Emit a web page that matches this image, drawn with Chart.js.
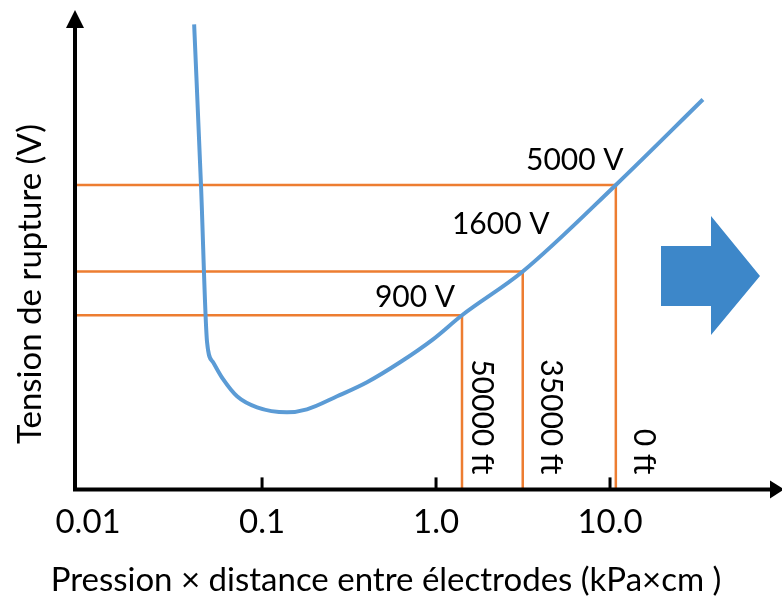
<!DOCTYPE html>
<html lang="fr">
<head>
<meta charset="utf-8">
<title>Tension de rupture</title>
<script src="https://cdn.jsdelivr.net/npm/chart.js@4.4.1/dist/chart.umd.min.js"></script>
<style>
  html, body { margin: 0; padding: 0; background: #fff; }
  #wrap { width: 782px; height: 596px; position: relative; }
</style>
</head>
<body>
<div id="wrap"><canvas id="paschenChart"></canvas></div>
<script>
// courbe (pression x distance en kPa.cm, tension en V)
const curveX = [0.0407, 0.0446, 0.0483, 0.0523, 0.0597, 0.0718, 0.0936, 0.139, 0.181, 0.270, 0.401, 0.621, 0.961, 1.41, 3.15, 10.8, 34.2];
const curveV = [41400, 4900, 631, 485, 388, 310, 268, 251, 261, 310, 373, 485, 656, 900, 1600, 5000, 15400];

// repères altitude
const markX = [1.41, 3.15, 10.8];
const markV = [900, 1600, 5000];
const markVLabels = ['900 V', '1600 V', '5000 V'];
const markAltLabels = ['50000 ft', '35000 ft', '0 ft'];

const xTicks = [0.01, 0.1, 1, 10];
const xTickLabels = ['0.01', '0.1', '1.0', '10.0'];

const xTitle = 'Pression × distance entre électrodes (kPa×cm )';
const yTitle = 'Tension de rupture (V)';

const xMin = 0.00841, xMax = 97.4;
const yMin = 91, yMax = 50000;

const FONT = 'Lato, "Open Sans", sans-serif';
const BLUE = '#5b9bd5';
const ORANGE = '#ed7d31';

window.addEventListener('DOMContentLoaded', () => {
  const canvas = document.getElementById('paschenChart');

  const curve = curveX.map((x, i) => ({ x: x, y: curveV[i] }));
  const markSets = markX.map((x, i) => ({
    data: [{ x: xMin, y: markV[i] }, { x: x, y: markV[i] }, { x: x, y: yMin }],
    borderColor: ORANGE,
    borderWidth: 2.5,
    pointRadius: 0,
    tension: 0,
    fill: false
  }));

  const decor = {
    id: 'decor',
    afterDatasetsDraw(chart) {
      const { ctx, chartArea: a, scales: { x, y } } = chart;
      ctx.save();

      // axes avec flèches
      ctx.strokeStyle = '#000';
      ctx.fillStyle = '#000';
      ctx.lineWidth = 4;
      ctx.beginPath();
      ctx.moveTo(a.left, a.bottom + 2);
      ctx.lineTo(a.left, a.top + 16);
      ctx.moveTo(a.left - 2, a.bottom);
      ctx.lineTo(a.right - 10, a.bottom);
      ctx.stroke();
      ctx.beginPath();
      ctx.moveTo(a.left - 9, a.top + 18);
      ctx.lineTo(a.left + 9, a.top + 18);
      ctx.lineTo(a.left, a.top);
      ctx.closePath();
      ctx.fill();
      ctx.beginPath();
      ctx.moveTo(a.right - 12, a.bottom - 9);
      ctx.lineTo(a.right - 12, a.bottom + 9);
      ctx.lineTo(a.right + 2, a.bottom);
      ctx.closePath();
      ctx.fill();

      // graduations
      ctx.lineWidth = 3;
      xTicks.slice(1).forEach((v) => {
        const px = x.getPixelForValue(v);
        ctx.beginPath();
        ctx.moveTo(px, a.bottom);
        ctx.lineTo(px, a.bottom - 12);
        ctx.stroke();
      });

      // titres des axes
      ctx.font = '33px ' + FONT;
      ctx.textAlign = 'center';
      ctx.textBaseline = 'middle';
      ctx.fillText(xTitle, 386, 580);
      ctx.save();
      ctx.translate(30, 284);
      ctx.rotate(-Math.PI / 2);
      ctx.fillText(yTitle, 0, 0);
      ctx.restore();

      // étiquettes tension
      const vOff = [[-47, -18], [-22, -47], [-41, -25]];
      ctx.font = '30px ' + FONT;
      markX.forEach((mx, i) => {
        const px = x.getPixelForValue(mx);
        const py = y.getPixelForValue(markV[i]);
        ctx.fillText(markVLabels[i], px + vOff[i][0], py + vOff[i][1]);
      });

      // étiquettes altitude
      const altOff = [20, 28, 28];
      ctx.textAlign = 'right';
      markX.forEach((mx, i) => {
        const px = x.getPixelForValue(mx);
        ctx.save();
        ctx.translate(px + altOff[i], a.bottom - 15);
        ctx.rotate(Math.PI / 2);
        ctx.fillText(markAltLabels[i], 0, 0);
        ctx.restore();
      });

      // grosse flèche
      ctx.fillStyle = '#3d87c9';
      ctx.beginPath();
      ctx.moveTo(661, 246);
      ctx.lineTo(711, 246);
      ctx.lineTo(711, 216);
      ctx.lineTo(760, 276);
      ctx.lineTo(711, 335);
      ctx.lineTo(711, 306);
      ctx.lineTo(661, 306);
      ctx.closePath();
      ctx.fill();

      ctx.restore();
    }
  };

  new Chart(canvas, {
    type: 'line',
    data: {
      datasets: [{
        data: curve,
        borderColor: BLUE,
        borderWidth: 4,
        pointRadius: 0,
        cubicInterpolationMode: 'monotone',
        fill: false
      }].concat(markSets)
    },
    options: {
      responsive: true,
      maintainAspectRatio: false,
      animation: false,
      layout: { padding: { left: 75, right: 0, top: 10, bottom: 41 } },
      plugins: { legend: { display: false }, tooltip: { enabled: false } },
      scales: {
        x: {
          type: 'logarithmic',
          min: xMin,
          max: xMax,
          bounds: 'data',
          border: { display: false },
          grid: { display: false, drawTicks: false },
          afterBuildTicks: (s) => { s.ticks = xTicks.map((v) => ({ value: v })); },
          ticks: {
            autoSkip: false,
            maxRotation: 0,
            padding: 13,
            color: '#000',
            font: { family: FONT, size: 33 },
            callback: (v, i) => xTickLabels[i]
          }
        },
        y: {
          type: 'logarithmic',
          display: false,
          min: yMin,
          max: yMax,
          bounds: 'data'
        }
      }
    },
    plugins: [decor]
  });
});
</script>
</body>
</html>
